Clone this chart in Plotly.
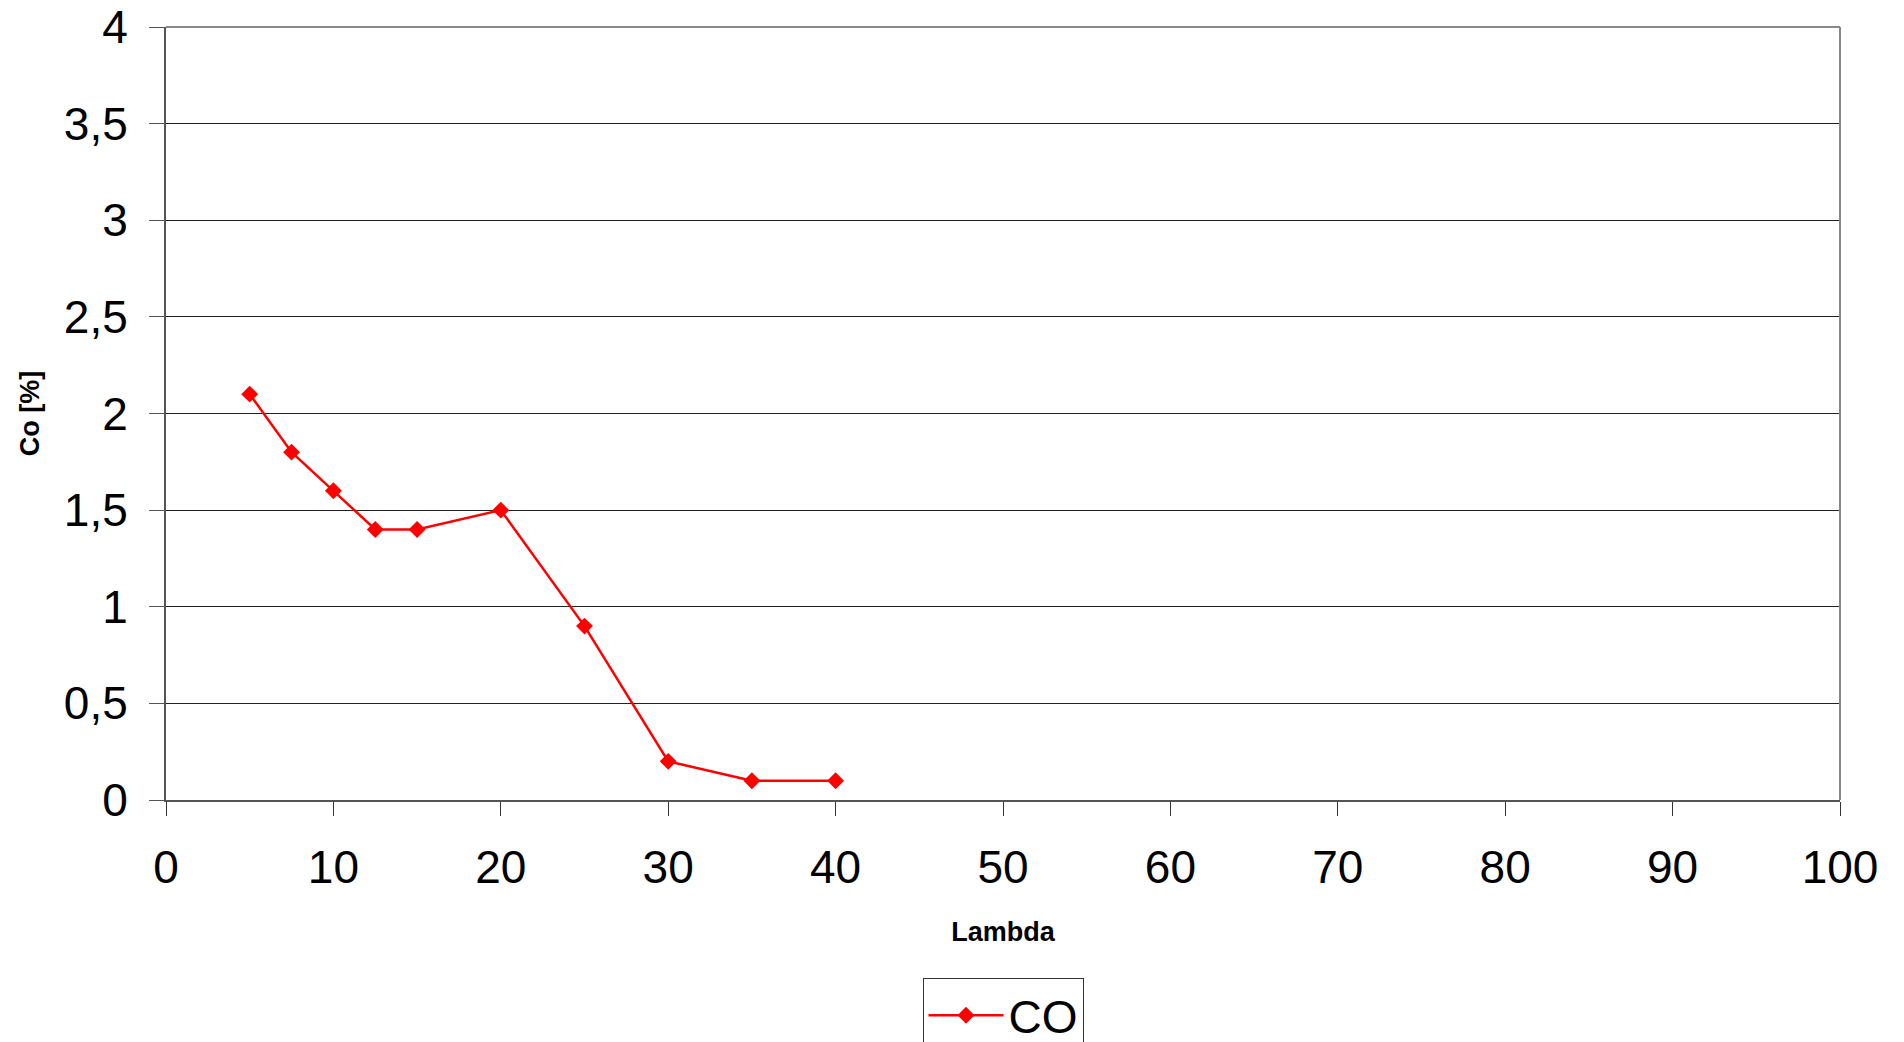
import plotly.graph_objects as go

lambda_vals = [5, 7.5, 10, 12.5, 15, 20, 25, 30, 35, 40]
co_vals = [2.1, 1.8, 1.6, 1.4, 1.4, 1.5, 0.9, 0.2, 0.1, 0.1]
series_name = "CO"
x_title = "Lambda"
y_title = "Co [%]"

FONT = "Arial, Liberation Sans, sans-serif"

fig = go.Figure()
fig.add_trace(go.Scatter(
    x=lambda_vals, y=co_vals, name=series_name, mode="lines+markers",
    line=dict(color="#ff0000", width=2.5),
    marker=dict(symbol="diamond", size=13, color="#ff0000"),
))

fig.update_layout(
    width=1904, height=1042,
    margin=dict(l=158, r=72, t=19, b=250, autoexpand=False),
    paper_bgcolor="white", plot_bgcolor="white",
    separators=", ",
    font=dict(family=FONT, color="black"),
    showlegend=True,
    legend=dict(
        x=0.5, xanchor="center", y=-0.230, yanchor="top",
        bordercolor="#333333", borderwidth=1,
        font=dict(size=46, family=FONT),
        orientation="h", itemwidth=75,
    ),
    xaxis=dict(
        range=[0, 100], dtick=10, tick0=0, automargin=False,
        showgrid=False, zeroline=False,
        showline=True, linecolor="#555555", linewidth=2, mirror=False,
        ticks="outside", ticklen=14, tickcolor="#333333", tickwidth=1,
        ticklabelstandoff=12, ticklabeloverflow="allow",
        tickfont=dict(size=46, family=FONT),
        title=dict(text="<b>" + x_title + "</b>", font=dict(size=27, family=FONT), standoff=30),
    ),
    yaxis=dict(
        range=[0, 4], dtick=0.5, tick0=0, automargin=False,
        showgrid=True, gridcolor="#222222", gridwidth=1,
        zeroline=False,
        showline=True, linecolor="#555555", linewidth=2,
        ticks="outside", ticklen=15, tickcolor="#555555", tickwidth=1,
        ticklabelstandoff=12, ticklabeloverflow="allow",
        tickfont=dict(size=46, family=FONT),
        title=dict(text="<b>" + y_title + "</b>", font=dict(size=27, family=FONT), standoff=16),
    ),
)

# top and right border in gray
fig.add_shape(type="line", xref="paper", yref="paper", x0=0, x1=1, y0=1, y1=1,
              line=dict(color="#888888", width=2))
fig.add_shape(type="line", xref="paper", yref="paper", x0=1, x1=1, y0=0, y1=1,
              line=dict(color="#888888", width=2))

fig.write_html("out.html")
